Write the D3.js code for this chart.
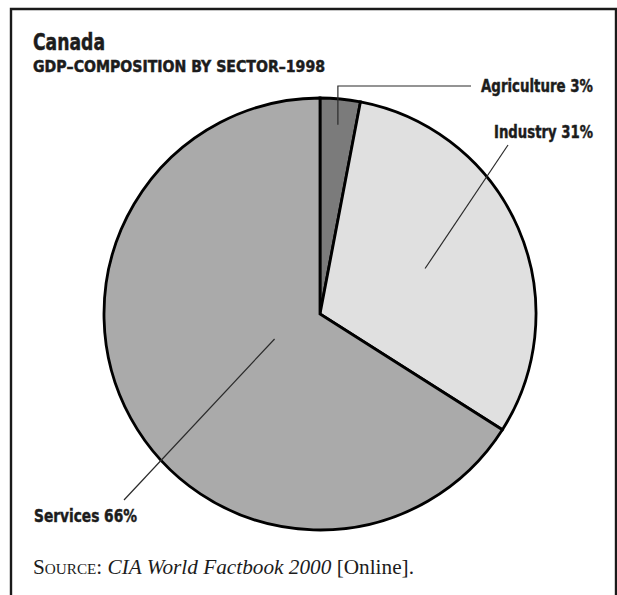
<!DOCTYPE html>
<html>
<head>
<meta charset="utf-8">
<script src="https://cdn.jsdelivr.net/npm/d3@7"></script>
<style>
  html, body { margin: 0; padding: 0; background: #fff; }
  svg { display: block; }
</style>
</head>
<body>
<script>
// GDP composition by sector, Canada 1998 (percent)
const sectors = ["Agriculture", "Industry", "Services"];
const shares = [3, 31, 66];
const sliceColors = ["#7b7b7b", "#e0e0e0", "#aaaaaa"];
// leader line: radius fraction of the inner end, and the outer end of each callout
const leaderInner = [0.88, 0.53, 0.24];
const leaderOuter = [[471, 86], [508, 145], [124, 500]];
const labelPos = [[593, 92], [593, 138], [34, 522]];
const labelAnchor = ["end", "end", "start"];

const W = 617, H = 595;
const cx = 320, cy = 314, R = 216;

const svg = d3.select("body").append("svg").attr("width", W).attr("height", H);

// frame: left, top and right edges only
svg.append("path")
  .attr("d", `M11,${H} L11,9 L616,9 L616,${H}`)
  .attr("fill", "none").attr("stroke", "#1a1a1a").attr("stroke-width", 2.4);

const cond = "'Liberation Sans Narrow', 'Arial Narrow', 'DejaVu Sans Condensed', sans-serif";
const ink = "#1c1c1c";

function heavy(sel) {
  return sel.attr("font-family", cond).attr("font-weight", "bold")
    .attr("fill", ink).attr("stroke", ink).attr("stroke-width", 0.45)
    .attr("lengthAdjust", "spacingAndGlyphs");
}

heavy(svg.append("text").attr("x", 33).attr("y", 50))
  .attr("font-size", 23).attr("textLength", 72)
  .text("Canada");

heavy(svg.append("text").attr("x", 33).attr("y", 72))
  .attr("font-size", 15).attr("textLength", 292)
  .text("GDP\u2013COMPOSITION BY SECTOR\u20131998");

const data = sectors.map((s, i) => ({ sector: s, value: shares[i], i }));
const pie = d3.pie().value(d => d.value).sort(null);
const arcs = pie(data);
const arc = d3.arc().innerRadius(0).outerRadius(R);

const g = svg.append("g").attr("transform", `translate(${cx},${cy})`);
g.selectAll("path.slice").data(arcs).join("path")
  .attr("class", "slice")
  .attr("d", arc)
  .attr("fill", d => sliceColors[d.data.i])
  .attr("stroke", "#000").attr("stroke-width", 2.8).attr("stroke-linejoin", "miter");

// leader lines
arcs.forEach(a => {
  const i = a.data.i;
  const mid = (a.startAngle + a.endAngle) / 2;
  const r = R * leaderInner[i];
  const x0 = cx + Math.sin(mid) * r;
  const y0 = cy - Math.cos(mid) * r;
  const [x1, y1] = leaderOuter[i];
  let d;
  if (i === 0) d = `M${x0},${y0} L${x0},${y1} L${x1},${y1}`;
  else d = `M${x0},${y0} L${x1},${y1}`;
  svg.append("path").attr("d", d).attr("fill", "none")
    .attr("stroke", "#2a2a2a").attr("stroke-width", 1.2);
});

const labelWidths = [112, 99, 103];
arcs.forEach(a => {
  const i = a.data.i;
  heavy(svg.append("text")
    .attr("x", labelPos[i][0]).attr("y", labelPos[i][1])
    .attr("text-anchor", labelAnchor[i]))
    .attr("font-size", 18)
    .attr("textLength", labelWidths[i])
    .text(`${a.data.sector} ${a.data.value}%`);
});

// source line
const src = svg.append("text").attr("x", 33).attr("y", 574)
  .attr("font-family", "'Liberation Serif', 'Times New Roman', serif")
  .attr("font-size", 21).attr("fill", ink)
  .attr("textLength", 381).attr("lengthAdjust", "spacingAndGlyphs");
src.append("tspan").attr("font-variant", "small-caps").text("Source:");
src.append("tspan").text(" ");
src.append("tspan").attr("font-style", "italic").text("CIA World Factbook 2000");
src.append("tspan").text(" [Online].");
</script>
</body>
</html>
